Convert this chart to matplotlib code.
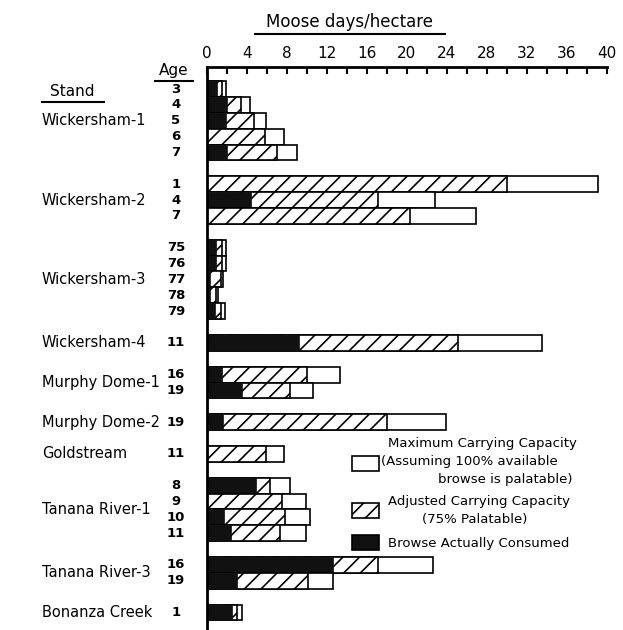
import matplotlib
matplotlib.use("Agg")
import matplotlib.pyplot as plt
from matplotlib.patches import Rectangle
from matplotlib.lines import Line2D

# -----------------------
# Data (moose days / hectare)
# -----------------------
stands = ["Wickersham-1", "Wickersham-2", "Wickersham-3", "Wickersham-4",
          "Murphy Dome-1", "Murphy Dome-2", "Goldstream", "Tanana River-1",
          "Tanana River-3", "Bonanza Creek"]
ages = [[3, 4, 5, 6, 7], [1, 4, 7], [75, 76, 77, 78, 79], [11], [16, 19], [19],
        [11], [8, 9, 10, 11], [16, 19], [1]]

max_capacity = [[1.9, 4.3, 5.9, 7.7, 9.0], [39.1, 22.8, 26.9],
                [1.9, 1.9, 1.6, 1.1, 1.8], [33.5], [13.3, 10.6], [23.9],
                [7.7], [8.3, 9.9, 10.3, 9.9], [22.6, 12.6], [3.5]]
adj_capacity = [[1.5, 3.4, 4.7, 5.8, 7.0], [30.0, 17.1, 20.3],
                [1.5, 1.5, 1.4, 0.9, 1.4], [25.1], [10.0, 8.3], [18.0],
                [5.9], [6.3, 7.5, 7.8, 7.3], [17.1, 10.1], [3.0]]
consumed = [[1.0, 2.0, 1.9, 0.0, 2.0], [0.0, 4.4, 0.0],
            [0.9, 0.9, 0.3, 0.3, 0.8], [9.2], [1.5, 3.5], [1.6],
            [0.0], [4.9, 0.0, 1.7, 2.4], [12.6, 3.0], [2.5]]

# -----------------------
# Figure
# -----------------------
W, H = 623, 630
fig = plt.figure(figsize=(W / 100, H / 100), dpi=100)
plt.rcParams['hatch.linewidth'] = 1.2

ax = fig.add_axes([207 / W, 0, 400 / W, 1 - 67 / H])

row = 0
for i, stand in enumerate(stands):
    rows = []
    for j, age in enumerate(ages[i]):
        ax.barh(row, max_capacity[i][j], height=1.0, color="white",
                edgecolor="black", linewidth=1.2)
        ax.barh(row, adj_capacity[i][j], height=1.0, color="white",
                edgecolor="black", linewidth=1.2, hatch="//")
        if consumed[i][j] > 0:
            ax.barh(row, consumed[i][j], height=1.0, color="#111111",
                    edgecolor="#111111", linewidth=0.5)
        ax.text(-31 / 10, row, str(age), ha="center", va="center",
                fontsize=9.5, fontweight="bold")
        rows.append(row)
        row += 1
    ax.text(-165 / 10, sum(rows) / len(rows), stand, ha="left", va="center",
            fontsize=10.5)
    row += 1

ax.set_xlim(0, 40)
ax.set_ylim(34.1, -1.39)
ax.xaxis.tick_top()
ax.set_xticks(range(0, 41, 4))
ax.set_xticks(range(0, 41, 2), minor=True)
ax.tick_params(axis="x", which="both", direction="in", length=5, width=1.5,
               labelsize=11, pad=4)
ax.set_yticks([])
for s in ["right", "bottom"]:
    ax.spines[s].set_visible(False)
ax.spines["top"].set_linewidth(2)
ax.spines["left"].set_linewidth(2)

# headers
fig.text(350 / W, 1 - 22 / H, "Moose days/hectare", ha="center", va="center",
         fontsize=12)
fig.add_artist(Line2D([255 / W, 445 / W], [1 - 34 / H] * 2, color="black", lw=1.5))
fig.text(72 / W, 1 - 91 / H, "Stand", ha="center", va="center", fontsize=11)
fig.add_artist(Line2D([42 / W, 104 / W], [1 - 102 / H] * 2, color="black", lw=1.5))
fig.text(174 / W, 1 - 71 / H, "Age", ha="center", va="center", fontsize=11)
fig.add_artist(Line2D([155 / W, 193 / W], [1 - 81 / H] * 2, color="black", lw=1.5))

# legend
def box(x, y, **kw):
    fig.add_artist(Rectangle((x / W, 1 - (y + 15) / H), 27 / W, 15 / H,
                             transform=fig.transFigure, edgecolor="black",
                             linewidth=1.2, **kw))

box(352, 456, facecolor="white")
box(352, 503, facecolor="white", hatch="//")
box(352, 535, facecolor="#111111")
lg = dict(fontsize=9.5, va="center")
fig.text(388 / W, 1 - 444 / H, "Maximum Carrying Capacity", ha="left", **lg)
fig.text(381 / W, 1 - 462 / H, "(Assuming 100% available", ha="left", **lg)
fig.text(572 / W, 1 - 479 / H, "browse is palatable)", ha="right", **lg)
fig.text(388 / W, 1 - 502 / H, "Adjusted Carrying Capacity", ha="left", **lg)
fig.text(475 / W, 1 - 519 / H, "(75% Palatable)", ha="center", **lg)
fig.text(388 / W, 1 - 543 / H, "Browse Actually Consumed", ha="left", **lg)

plt.savefig("out.png", dpi=100)
